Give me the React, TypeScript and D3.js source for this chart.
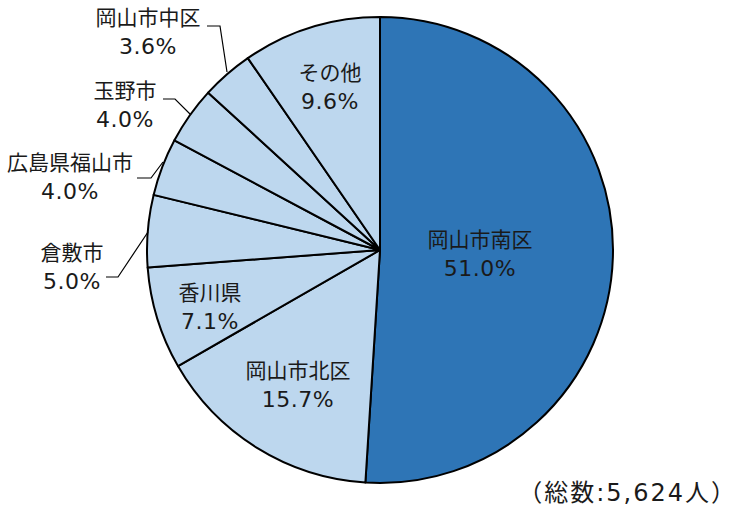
import React from "react";
import * as d3 from "d3";

const categories = ["岡山市南区", "岡山市北区", "香川県", "倉敷市", "広島県福山市", "玉野市", "岡山市中区", "その他"];
const values = [51.0, 15.7, 7.1, 5.0, 4.0, 4.0, 3.6, 9.6];
const colors = ["#2E75B6", "#BDD7EE", "#BDD7EE", "#BDD7EE", "#BDD7EE", "#BDD7EE", "#BDD7EE", "#BDD7EE"];
const totalLabel = "（総数:5,624人）";

type LabelPos = { x: number; y: number; leader?: [number, number][] };
const labelPos: LabelPos[] = [
  { x: 480, y: 240 },
  { x: 298, y: 371 },
  { x: 210, y: 293 },
  { x: 72, y: 253, leader: [[106, 277], [118, 277], [148, 232]] },
  { x: 70, y: 163, leader: [[137, 178], [151, 178], [163, 162]] },
  { x: 125, y: 91, leader: [[163, 99], [175, 99], [190, 114]] },
  { x: 148, y: 18, leader: [[207, 26], [220, 26], [227, 72]] },
  { x: 330, y: 73 },
];

export default function App() {
  const W = 739, H = 511;
  const cx = 380, cy = 250, r = 233;
  const pie = d3.pie<number>().sort(null).value((d) => d);
  const arcs = pie(values);
  const arc = d3.arc<d3.PieArcDatum<number>>().innerRadius(0).outerRadius(r);
  const font = "'DejaVu Sans', 'Noto Sans CJK JP', sans-serif";
  return (
    <svg width={W} height={H} style={{ position: "absolute", left: 0, top: 0 }}>
      <rect width={W} height={H} fill="#fff" />
      <g transform={`translate(${cx},${cy})`}>
        {arcs.map((a, i) => (
          <path key={i} d={arc(a) || ""} fill={colors[i]} stroke="#000" strokeWidth={2} strokeLinejoin="round" />
        ))}
      </g>
      {labelPos.map((p, i) => (
        <g key={i}>
          {p.leader && (
            <polyline points={p.leader.map((q) => q.join(",")).join(" ")} fill="none" stroke="#000" strokeWidth={1.2} />
          )}
          <text x={p.x} y={p.y} textAnchor="middle" dominantBaseline="central" fontFamily={font} fontSize={21} fill="#1a1a1a">
            {categories[i]}
          </text>
          <text x={p.x} y={p.y + 28} textAnchor="middle" dominantBaseline="central" fontFamily={font} fontSize={22} fill="#1a1a1a" letterSpacing={0.5}>
            {values[i].toFixed(1)}%
          </text>
        </g>
      ))}
      <text x={737} y={493} textAnchor="end" dominantBaseline="central" fontFamily={font} fontSize={24} fill="#1a1a1a" letterSpacing={2}>
        {totalLabel}
      </text>
    </svg>
  );
}
